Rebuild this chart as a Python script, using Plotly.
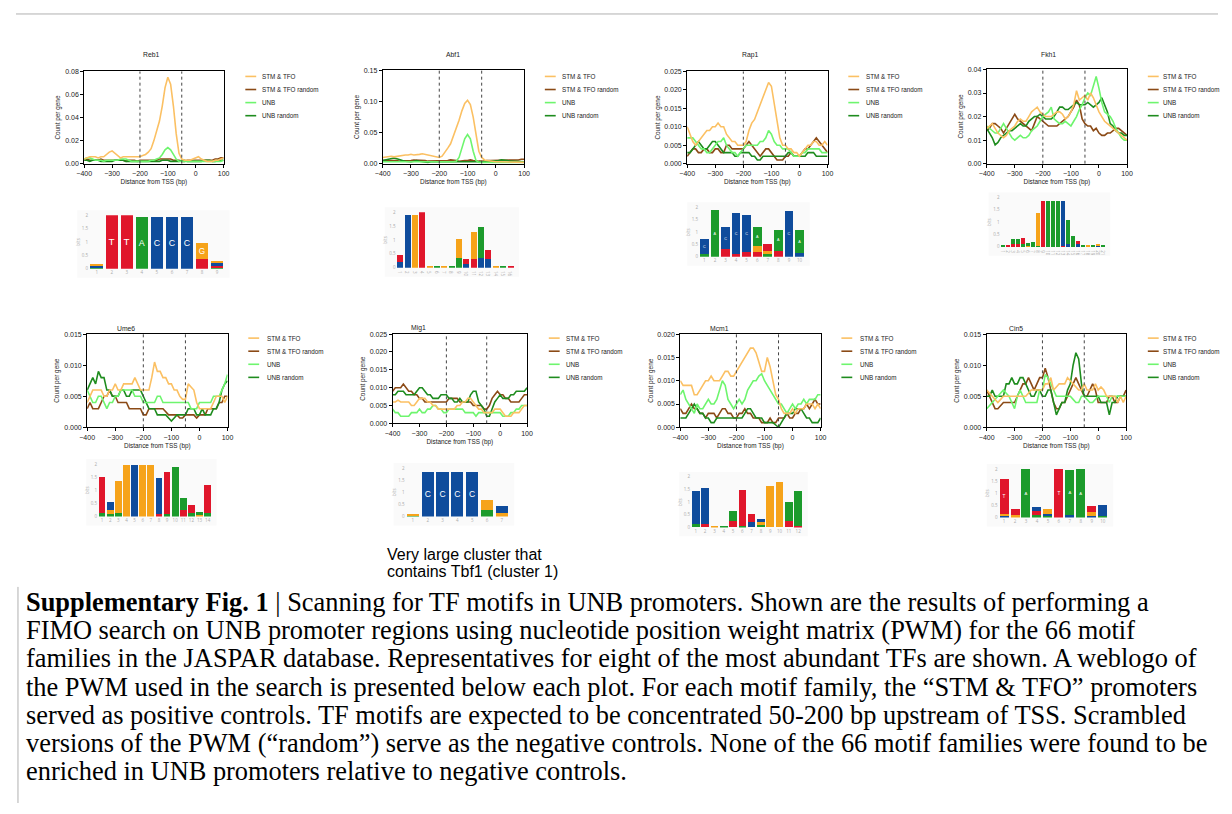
import plotly.graph_objects as go

# page is 1232x814; the html body keeps an 8px margin, so the figure is drawn 8px in from the corner
PAGE_OFF = 8
W, H = 1232 - 2 * PAGE_OFF, 814 - 2 * PAGE_OFF

# ---------------- data ----------------
distance_bp = list(range(-400, 101, 10))
series_names = ["STM & TFO", "STM & TFO random", "UNB", "UNB random"]
series_colors = ["#FBC063", "#8B4A16", "#6EF56E", "#1E8C1E"]
panel_titles = ["Reb1", "Abf1", "Rap1", "Fkh1", "Ume6", "Mig1", "Mcm1", "Cin5"]
y_max = [0.08, 0.15, 0.025, 0.04, 0.015, 0.025, 0.020, 0.015]
y_step = [0.02, 0.05, 0.005, 0.01, 0.005, 0.005, 0.005, 0.005]
y_format = [".2f", ".2f", ".3f", ".2f", ".3f", ".3f", ".3f", ".3f"]
x_tick_values = [-400, -300, -200, -100, 0, 100]
window_bp = [-200, -50]

reb1_stm = [.004,.005,.006,.006,.006,.005,.006,.006,.008,.010,
            .011,.009,.007,.005,.006,.006,.006,.006,.006,.006,
            .006,.007,.008,.010,.013,.020,.028,.037,.050,.066,
            .075,.069,.050,.026,.009,.004,.003,.003,.003,.004,
            .005,.006,.004,.003,.002,.002,.002,.003,.003,.004,.005]
reb1_stm_rand = [.003,.004,.003,.003,.003,.003,.004,.003,.003,.003,
                 .003,.003,.003,.003,.003,.002,.003,.003,.003,.002,
                 .003,.003,.003,.003,.003,.003,.003,.004,.004,.004,
                 .004,.004,.003,.003,.003,.002,.002,.003,.003,.003,
                 .003,.003,.003,.003,.003,.003,.003,.004,.004,.005,.005]
reb1_unb = [.004,.005,.005,.004,.003,.003,.003,.002,.003,.003,
            .003,.003,.003,.004,.004,.004,.003,.002,.002,.002,
            .002,.002,.002,.002,.003,.003,.004,.005,.008,.012,
            .014,.012,.008,.004,.002,.002,.002,.002,.002,.002,
            .002,.002,.002,.002,.002,.002,.002,.002,.002,.002,.003]
reb1_unb_rand = [.003,.003,.002,.003,.003,.003,.002,.002,.002,.002,
                 .002,.003,.003,.003,.003,.002,.002,.002,.002,.002,
                 .002,.002,.002,.002,.002,.002,.002,.002,.003,.003,
                 .003,.002,.002,.002,.002,.003,.003,.002,.002,.002,
                 .002,.002,.002,.003,.003,.003,.002,.002,.003,.003,.003]

abf1_stm = [.010,.011,.012,.012,.011,.012,.012,.013,.014,.014,
            .015,.014,.014,.015,.016,.015,.013,.012,.011,.010,
            .010,.012,.018,.025,.032,.044,.055,.070,.085,.097,
            .102,.095,.075,.045,.020,.010,.006,.005,.004,.004,
            .003,.003,.003,.003,.002,.002,.002,.002,.002,.002,.002]
abf1_stm_rand = [.005,.005,.006,.005,.005,.005,.004,.004,.005,.005,
                 .005,.006,.006,.005,.005,.005,.004,.004,.005,.005,
                 .004,.004,.005,.005,.006,.006,.005,.004,.005,.005,
                 .005,.006,.005,.004,.004,.004,.005,.005,.005,.005,
                 .005,.005,.005,.006,.006,.005,.006,.006,.006,.007,.007]
abf1_unb = [.003,.003,.003,.003,.002,.003,.003,.003,.003,.003,
            .003,.003,.003,.003,.003,.003,.002,.002,.002,.003,
            .003,.003,.003,.003,.003,.003,.004,.010,.025,.040,
            .047,.040,.020,.005,.002,.002,.002,.002,.002,.002,
            .002,.002,.002,.002,.002,.002,.002,.002,.002,.002,.002]
abf1_unb_rand = [.005,.006,.007,.008,.009,.008,.006,.005,.004,.003,
                 .003,.004,.005,.004,.003,.003,.002,.003,.003,.003,
                 .003,.003,.002,.003,.003,.003,.002,.003,.002,.003,
                 .003,.003,.003,.002,.002,.003,.003,.004,.004,.004,
                 .004,.005,.006,.006,.005,.004,.004,.003,.003,.003,.003]

rap1_stm = [.010,.008,.006,.005,.006,.007,.008,.009,.009,.010,
            .010,.011,.010,.010,.008,.007,.006,.006,.005,.005,
            .005,.006,.009,.011,.012,.014,.016,.018,.020,.022,
            .021,.016,.011,.007,.005,.005,.004,.004,.003,.003,
            .002,.003,.004,.005,.005,.006,.006,.005,.005,.006,.005]
rap1_stm_rand = [.002,.003,.004,.004,.003,.003,.004,.004,.003,.003,
                 .004,.004,.003,.003,.005,.005,.004,.004,.004,.004,
                 .004,.005,.006,.005,.004,.003,.002,.003,.004,.004,
                 .003,.002,.001,.001,.001,.002,.002,.003,.002,.002,
                 .002,.003,.004,.004,.005,.006,.007,.006,.005,.004,.003]
rap1_unb = [.007,.007,.007,.006,.005,.004,.004,.003,.003,.004,
            .005,.006,.006,.007,.005,.004,.003,.003,.002,.003,
            .004,.005,.005,.005,.005,.005,.006,.006,.007,.009,
            .008,.006,.005,.005,.004,.004,.004,.003,.002,.002,
            .002,.003,.003,.004,.004,.004,.004,.004,.003,.003,.003]
rap1_unb_rand = [.003,.003,.004,.005,.006,.005,.004,.004,.005,.006,
                 .006,.005,.004,.003,.003,.003,.003,.002,.002,.003,
                 .003,.003,.003,.002,.002,.001,.001,.002,.002,.002,
                 .002,.002,.002,.002,.002,.002,.003,.003,.002,.002,
                 .002,.002,.002,.003,.003,.003,.002,.002,.002,.002,.002]

fkh1_stm = [.015,.016,.017,.015,.013,.012,.011,.012,.014,.015,
            .016,.018,.019,.018,.018,.020,.022,.023,.024,.022,
            .021,.020,.020,.020,.021,.022,.022,.021,.019,.020,
            .022,.025,.031,.027,.028,.029,.027,.030,.028,.025,
            .022,.020,.018,.017,.016,.015,.014,.013,.012,.011,.010]
fkh1_stm_rand = [.014,.015,.017,.017,.016,.015,.013,.015,.017,.019,
                 .021,.019,.018,.017,.016,.015,.014,.017,.020,.019,
                 .018,.017,.016,.016,.016,.016,.017,.018,.019,.020,
                 .022,.024,.027,.025,.019,.017,.016,.016,.014,.015,
                 .013,.012,.012,.013,.013,.014,.015,.015,.014,.013,.012]
fkh1_unb = [.016,.015,.014,.013,.013,.015,.017,.015,.013,.011,
            .010,.011,.012,.011,.011,.012,.014,.015,.016,.018,
            .020,.021,.022,.024,.019,.018,.017,.017,.018,.017,
            .016,.018,.020,.023,.025,.028,.030,.029,.033,.037,
            .032,.026,.022,.021,.020,.018,.015,.013,.011,.010,.010]
fkh1_unb_rand = [.015,.013,.011,.008,.009,.011,.012,.013,.014,.014,
                 .015,.016,.017,.016,.016,.018,.019,.020,.020,.021,
                 .020,.019,.019,.019,.020,.022,.024,.024,.023,.023,
                 .024,.025,.026,.025,.025,.025,.026,.025,.024,.025,
                 .026,.028,.025,.022,.017,.016,.014,.013,.013,.012,.012]

ume6_stm = [.004,.005,.006,.006,.006,.006,.005,.005,.006,.006,
            .007,.006,.006,.007,.007,.007,.007,.008,.007,.006,
            .006,.006,.006,.008,.0105,.009,.009,.008,.008,.007,
            .007,.006,.006,.005,.0045,.0045,.007,.0065,.006,.004,
            .003,.003,.003,.003,.003,.004,.005,.005,.005,.004,.005]
ume6_stm_rand = [.003,.004,.003,.003,.003,.004,.005,.005,.006,.005,
                 .005,.004,.004,.004,.004,.003,.003,.003,.003,.003,
                 .002,.002,.003,.003,.003,.003,.003,.003,.0025,.002,
                 .002,.002,.002,.0015,.0015,.002,.002,.002,.002,.0015,
                 .002,.002,.002,.003,.003,.003,.003,.004,.004,.005,.005]
ume6_unb = [.006,.005,.004,.004,.005,.005,.004,.003,.004,.004,
            .005,.005,.006,.006,.006,.006,.006,.005,.005,.005,
            .004,.004,.004,.004,.004,.005,.005,.004,.004,.004,
            .004,.004,.004,.004,.004,.004,.004,.003,.003,.003,
            .004,.004,.004,.004,.004,.005,.005,.005,.006,.007,.0085]
ume6_unb_rand = [.006,.007,.008,.007,.009,.008,.008,.006,.006,.005,
                 .005,.005,.006,.006,.005,.005,.006,.006,.006,.006,
                 .005,.004,.003,.003,.003,.002,.002,.002,.002,.0015,
                 .001,.0015,.002,.002,.002,.002,.003,.003,.003,.002,
                 .002,.003,.002,.002,.002,.003,.003,.004,.006,.007,.0075]

mig1_stm = [.006,.006,.0065,.006,.006,.006,.006,.005,.005,.006,
            .007,.007,.007,.006,.006,.005,.005,.004,.004,.004,
            .004,.004,.004,.004,.005,.005,.006,.006,.007,.007,
            .006,.005,.004,.004,.003,.003,.003,.003,.004,.004,
            .004,.003,.002,.002,.002,.003,.003,.003,.004,.005,.005]
mig1_stm_rand = [.009,.010,.010,.010,.011,.010,.009,.009,.008,.008,
                 .007,.007,.006,.006,.006,.006,.006,.006,.006,.006,
                 .006,.007,.007,.007,.007,.006,.006,.006,.006,.006,
                 .005,.005,.005,.005,.004,.004,.005,.007,.008,.009,
                 .008,.008,.007,.007,.006,.006,.006,.006,.007,.008,.008]
mig1_unb = [.004,.003,.003,.002,.002,.002,.002,.003,.003,.003,
            .004,.003,.003,.004,.004,.005,.005,.004,.004,.003,
            .003,.004,.004,.004,.004,.004,.004,.003,.003,.003,
            .003,.002,.003,.003,.003,.003,.003,.003,.003,.003,
            .003,.002,.002,.002,.003,.003,.004,.004,.005,.005,.005]
mig1_unb_rand = [.008,.008,.009,.009,.009,.008,.008,.008,.008,.009,
                 .010,.010,.009,.008,.008,.007,.007,.007,.008,.008,
                 .008,.007,.007,.006,.006,.007,.006,.006,.006,.008,
                 .009,.009,.006,.005,.004,.002,.002,.004,.006,.007,
                 .008,.007,.007,.007,.008,.008,.009,.009,.009,.009,.010]

mcm1_stm = [.010,.009,.009,.009,.009,.007,.007,.008,.009,.010,
            .010,.011,.010,.010,.010,.011,.012,.012,.011,.011,
            .012,.013,.014,.015,.016,.017,.017,.016,.014,.012,
            .012,.015,.013,.010,.007,.006,.004,.003,.003,.003,
            .004,.003,.004,.004,.004,.005,.005,.005,.004,.005,.004]
mcm1_stm_rand = [.004,.003,.003,.004,.005,.004,.004,.003,.003,.002,
                 .003,.003,.003,.002,.003,.004,.004,.003,.003,.002,
                 .002,.003,.003,.004,.003,.003,.002,.002,.002,.001,
                 .001,.001,.002,.001,.001,.002,.002,.002,.003,.002,
                 .002,.003,.003,.004,.004,.005,.004,.005,.006,.005,.005]
mcm1_unb = [.007,.008,.006,.005,.004,.003,.005,.004,.004,.005,
            .006,.005,.005,.006,.008,.010,.009,.006,.005,.004,
            .005,.006,.005,.006,.008,.009,.010,.010,.011,.0115,
            .010,.009,.008,.007,.006,.005,.005,.004,.003,.004,
            .005,.004,.005,.005,.006,.005,.006,.006,.006,.007,.007]
mcm1_unb_rand = [.002,.002,.002,.003,.004,.005,.004,.003,.003,.002,
                 .002,.001,.001,.002,.002,.002,.002,.002,.002,.002,
                 .002,.002,.002,.003,.004,.004,.003,.002,.002,.002,
                 .001,.001,.001,.001,.0005,.0,.001,.002,.003,.003,
                 .003,.004,.004,.004,.003,.002,.002,.001,.001,.001,.002]

cin5_stm = [.006,.0055,.005,.0045,.004,.0045,.005,.005,.005,.005,
            .005,.005,.005,.005,.005,.0055,.006,.006,.006,.006,
            .006,.007,.007,.008,.006,.0065,.007,.007,.007,.008,
            .0075,.007,.0065,.006,.006,.007,.006,.006,.006,.007,
            .006,.0065,.006,.005,.005,.005,.005,.004,.005,.004,.005]
cin5_stm_rand = [.006,.005,.004,.003,.003,.0035,.004,.004,.004,.004,
                 .004,.005,.006,.007,.007,.008,.007,.006,.007,.008,
                 .008,.0095,.008,.006,.004,.003,.003,.004,.004,.005,
                 .006,.007,.008,.007,.006,.005,.005,.006,.007,.006,
                 .004,.004,.004,.004,.005,.005,.004,.004,.005,.005,.006]
cin5_unb = [.003,.0035,.004,.0045,.005,.0055,.006,.0055,.005,.004,
            .003,.005,.006,.005,.004,.004,.004,.004,.004,.006,
            .006,.0085,.008,.007,.006,.005,.005,.005,.005,.005,
            .005,.0045,.004,.004,.005,.005,.0045,.004,.004,.0045,
            .005,.005,.005,.005,.004,.005,.005,.005,.005,.005,.005]
cin5_unb_rand = [.005,.005,.006,.005,.005,.005,.005,.007,.007,.008,
                 .007,.007,.008,.008,.007,.006,.005,.005,.006,.006,
                 .005,.005,.006,.006,.004,.002,.003,.004,.004,.006,
                 .007,.010,.012,.011,.007,.005,.005,.005,.005,.005,
                 .005,.004,.004,.004,.002,.004,.004,.005,.005,.005,.005]

panel_series = [
    [reb1_stm, reb1_stm_rand, reb1_unb, reb1_unb_rand],
    [abf1_stm, abf1_stm_rand, abf1_unb, abf1_unb_rand],
    [rap1_stm, rap1_stm_rand, rap1_unb, rap1_unb_rand],
    [fkh1_stm, fkh1_stm_rand, fkh1_unb, fkh1_unb_rand],
    [ume6_stm, ume6_stm_rand, ume6_unb, ume6_unb_rand],
    [mig1_stm, mig1_stm_rand, mig1_unb, mig1_unb_rand],
    [mcm1_stm, mcm1_stm_rand, mcm1_unb, mcm1_unb_rand],
    [cin5_stm, cin5_stm_rand, cin5_unb, cin5_unb_rand],
]
draw_order = [1, 3, 2, 0]

# Sequence logos: per position, (letter, bits) stacked bottom -> top
logo_reb1 = [[("A", .05), ("C", .05), ("G", .08)], [("T", 2.0)], [("T", 2.0)], [("A", 1.95)],
             [("C", 1.95)], [("C", 1.95)], [("C", 1.95)], [("T", .35), ("G", .6)],
             [("A", .05), ("T", .07), ("C", .08), ("G", .1)]]
logo_abf1 = [[("C", .2), ("T", .25)], [("C", 1.9)], [("G", 1.9)], [("T", 2.0)],
             [("G", .05)], [("A", .03)], [("G", .05)], [("A", .05)],
             [("A", .35), ("G", .7)], [("C", .12), ("T", .18)], [("T", .3), ("G", 1.0)],
             [("C", .35), ("A", 1.1)], [("C", .3), ("T", .35)], [("G", .05)], [("A", .04)], [("T", .05)]]
logo_rap1 = [[("A", .12), ("C", .6)], [("A", 1.9)], [("T", .3), ("C", .9)], [("T", .1), ("C", 1.65)],
             [("T", .2), ("C", 1.5)], [("T", .2), ("G", .25), ("A", .75)], [("A", .1), ("G", .15), ("T", .25)],
             [("T", .25), ("A", .85)], [("C", 1.85)], [("C", .15), ("A", .95)]]
logo_fkh1 = [[("A", .05)], [("T", .05)], [("T", .12), ("A", .2)], [("T", .1), ("A", .2)],
             [("A", .1), ("T", .25)], [("G", .05), ("A", .1)], [("A", .18)], [("A", .05), ("G", 1.3)],
             [("T", 1.85)], [("A", 1.85)], [("A", 1.85)], [("A", 1.85)], [("T", .05), ("C", 1.8)],
             [("C", .1), ("A", 1.0)], [("A", .45)], [("C", .1), ("T", .15)], [("A", .05)],
             [("G", .05)], [("A", .05)], [("C", .05), ("G", .08)], [("A", .05)]]
logo_ume6 = [[("A", .15), ("T", 1.35)], [("A", .1), ("G", .15), ("C", .3)], [("A", .15), ("G", 1.2)],
             [("G", 1.95)], [("C", 1.95)], [("G", 1.95)], [("G", 1.95)], [("T", .1), ("C", 1.35)],
             [("A", .1), ("T", 1.6)], [("A", 1.9)], [("T", .25), ("A", .45)], [("A", .15), ("T", .3)],
             [("G", .05), ("A", .12)], [("A", .15), ("T", 1.05)]]
logo_mig1 = [[("A", .03), ("C", .03), ("G", .03)], [("C", 1.85)], [("C", 1.85)], [("C", 1.85)],
             [("C", 1.85)], [("A", .25), ("G", .45)], [("G", .15), ("C", .3)]]
logo_mcm1 = [[("A", .15), ("C", 1.3)], [("T", .15), ("C", 1.4)], [("G", .05)], [("A", .05)],
             [("T", .25), ("A", .4)], [("A", .05), ("T", 1.45)], [("C", .2), ("T", .35)],
             [("A", .1), ("G", .1), ("C", .15)], [("G", 1.65)], [("G", 1.8)], [("T", .25), ("A", .75)],
             [("T", .05), ("A", 1.4)]]
logo_cin5 = [[("C", .05), ("G", .1), ("T", 1.45)], [("G", .12), ("T", .25)], [("A", 2.0)],
             [("A", .1), ("T", .15), ("C", .2)], [("A", .07), ("C", .08), ("G", .2)], [("T", 2.0)],
             [("C", .12), ("A", 1.85)], [("A", 2.0)], [("C", .07), ("G", .15), ("T", .25)],
             [("A", .08), ("C", .45)]]
logos = [logo_reb1, logo_abf1, logo_rap1, logo_fkh1, logo_ume6, logo_mig1, logo_mcm1, logo_cin5]
nucleotide_colors = {"A": "#1C9B2C", "C": "#0F4C9C", "G": "#F6A31A", "T": "#E0162B"}

caption_lines = [
    "<b>Supplementary Fig. 1</b> | Scanning for TF motifs in UNB promoters. Shown are the results of performing a",
    "FIMO search on UNB promoter regions using nucleotide position weight matrix (PWM) for the 66 motif",
    "families in the JASPAR database. Representatives for eight of the most abundant TFs are shown. A weblogo of",
    "the PWM used in the search is presented below each plot. For each motif family, the \u201cSTM & TFO\u201d promoters",
    "served as positive controls. TF motifs are expected to be concentrated 50-200 bp upstream of TSS. Scrambled",
    "versions of the PWM (\u201crandom\u201d) serve as the negative controls. None of the 66 motif families were found to be",
    "enriched in UNB promoters relative to negative controls.",
]
note_lines = ["Very large cluster that", "contains Tbf1 (cluster 1)"]

# ---------------- layout geometry (page pixels) ----------------
panel_box = [(77, 218, 68, 161), (379, 522, 67, 161), (687, 829, 68, 161), (990, 1132, 66, 161),
             (80, 222, 333, 427), (389, 525, 333, 423), (680, 822, 333, 427), (990, 1131, 333, 427)]
title_pos = [(145, 51), (450, 51), (751, 51), (1053, 51), (119, 327), (415, 327), (720, 327), (1020, 327)]
legend_pos = [(240, 255, 73), (543, 558, 73), (850, 866, 73), (1153, 1166, 73),
              (243, 260, 337), (547, 562, 337), (843, 860, 337), (1153, 1166, 337)]
legend_gap = 13.2
logo_box = [(82, 219, 213, 267), (393, 512, 210, 266), (699, 806, 205, 255), (1004, 1110, 195, 245),
            (91, 206, 464, 517), (402, 507, 468, 517), (691, 804, 477, 528), (1002, 1113, 469, 518)]


def px_x(x):
    return (x - PAGE_OFF) / W


def px_y(y):
    return 1 - (y - PAGE_OFF) / H


def axid(n):
    return "" if n == 1 else str(n)


FONT = "Liberation Sans, Arial, sans-serif"
fig = go.Figure()
layout = {}
annotations = []
shapes = []

for i in range(8):
    n = i + 1
    s = axid(n)
    l, r, t, b = panel_box[i]
    for k in draw_order:
        fig.add_trace(go.Scatter(x=distance_bp, y=panel_series[i][k], mode="lines",
                                 line=dict(color=series_colors[k], width=1.6),
                                 name=series_names[k], showlegend=False,
                                 xaxis="x" + s, yaxis="y" + s))
    layout["xaxis" + s] = dict(domain=[px_x(l), px_x(r)], anchor="y" + s, range=[-400, 100],
                               tickvals=x_tick_values, ticks="outside", ticklen=3, tickwidth=1,
                               tickcolor="black", showline=True, linecolor="black", linewidth=1,
                               mirror=True, showgrid=False, zeroline=False,
                               tickfont=dict(size=7, color="#222", family=FONT),
                               title=dict(text="Distance from TSS (bp)",
                                          font=dict(size=6.4, color="#222", family=FONT), standoff=3))
    n_ticks = int(round(y_max[i] / y_step[i]))
    layout["yaxis" + s] = dict(domain=[px_y(b), px_y(t)], anchor="x" + s, range=[0, y_max[i]],
                               tickvals=[j * y_step[i] for j in range(n_ticks + 1)], tickformat=y_format[i],
                               ticks="outside", ticklen=3, tickwidth=1, tickcolor="black",
                               showline=True, linecolor="black", linewidth=1, mirror=True,
                               showgrid=False, zeroline=False,
                               tickfont=dict(size=7, color="#222", family=FONT),
                               title=dict(text="Count per gene",
                                          font=dict(size=6.4, color="#222", family=FONT), standoff=3))
    for wx in window_bp:
        shapes.append(dict(type="line", xref="x" + s, yref="y" + s + " domain", x0=wx, x1=wx, y0=0, y1=1,
                           line=dict(color="#444", width=1, dash="dot")))
    tx, ty = title_pos[i]
    annotations.append(dict(text=panel_titles[i], x=px_x(tx), y=px_y(ty), xref="paper", yref="paper",
                            showarrow=False, xanchor="center", yanchor="middle",
                            font=dict(size=6.8, color="#222", family=FONT)))
    lx0, ltx, ly0 = legend_pos[i]
    for k in range(4):
        yy = ly0 + k * legend_gap
        shapes.append(dict(type="line", xref="paper", yref="paper", x0=px_x(lx0), x1=px_x(lx0 + 11),
                           y0=px_y(yy), y1=px_y(yy), line=dict(color=series_colors[k], width=1.6)))
        annotations.append(dict(text=series_names[k], x=px_x(ltx), y=px_y(yy), xref="paper", yref="paper",
                                showarrow=False, xanchor="left", yanchor="middle",
                                font=dict(size=6.3, color="#222", family=FONT)))

# logos
for i in range(8):
    n = 9 + i
    s = axid(n)
    l, r, t, b = logo_box[i]
    logo = logos[i]
    n_pos = len(logo)
    bar_px = (r - l) / n_pos * 0.82
    depth = max(len(st) for st in logo)
    for rank in range(depth):
        xs, ys, cols, txt = [], [], [], []
        for p, stack in enumerate(logo):
            if rank < len(stack):
                letter, bits = stack[rank]
                xs.append(p + 1)
                ys.append(bits)
                cols.append(nucleotide_colors[letter])
                txt.append(letter if (bits >= 0.6 and bar_px >= 8) else None)
        fig.add_trace(go.Bar(x=xs, y=ys, marker=dict(color=cols, line=dict(width=0)), width=0.82,
                             text=txt, textposition="inside", insidetextanchor="middle",
                             textangle=0, constraintext="inside",
                             textfont=dict(color="white", size=14,
                                           family="Liberation Sans Narrow, Liberation Sans"),
                             showlegend=False, hoverinfo="skip",
                             xaxis="x" + s, yaxis="y" + s))
    layout["xaxis" + s] = dict(domain=[px_x(l), px_x(r)], anchor="y" + s, range=[0.5, n_pos + 0.5],
                               tickvals=list(range(1, n_pos + 1)), showline=False, showgrid=False,
                               zeroline=False, ticks="", tickfont=dict(size=4.5, color="#aaa"))
    layout["yaxis" + s] = dict(domain=[px_y(b), px_y(t)], anchor="x" + s, range=[0, 2],
                               tickvals=[0, 0.5, 1, 1.5, 2], showline=False, showgrid=False,
                               zeroline=False, ticks="", tickfont=dict(size=4.5, color="#aaa"),
                               title=dict(text="bits", font=dict(size=4.5, color="#aaa"), standoff=1))
    shapes.append(dict(type="rect", xref="paper", yref="paper", layer="below",
                       x0=px_x(l - 12), x1=px_x(r + 5), y0=px_y(b + 9), y1=px_y(t - 5),
                       fillcolor="#FAFAFA", line=dict(width=0)))

# note text under the Mig1 logo
for j, line in enumerate(note_lines):
    annotations.append(dict(text=line, x=px_x(381), y=px_y(555 + j * 17), xref="paper", yref="paper",
                            showarrow=False, xanchor="left", yanchor="middle",
                            font=dict(size=16, color="black", family=FONT)))

# caption
for j, line in enumerate(caption_lines):
    annotations.append(dict(text=line, x=px_x(16), y=px_y(603 + j * 28.5), xref="paper", yref="paper",
                            showarrow=False, xanchor="left", yanchor="middle",
                            font=dict(size=26.4, color="black", family="Liberation Serif, Times New Roman, serif")))

# page frame lines
shapes.append(dict(type="line", xref="paper", yref="paper", x0=0, x1=1, y0=px_y(10), y1=px_y(10),
                   line=dict(color="#B0B0B0", width=1)))
shapes.append(dict(type="line", xref="paper", yref="paper", x0=px_x(10), x1=px_x(10), y0=px_y(588), y1=0,
                   line=dict(color="#B0B0B0", width=1)))

fig.update_layout(width=W, height=H, autosize=False, margin=dict(l=0, r=0, t=0, b=0),
                  paper_bgcolor="white", plot_bgcolor="rgba(0,0,0,0)", barmode="stack", bargap=0.1,
                  showlegend=False, annotations=annotations, shapes=shapes, **layout)

fig.write_html("out.html")
